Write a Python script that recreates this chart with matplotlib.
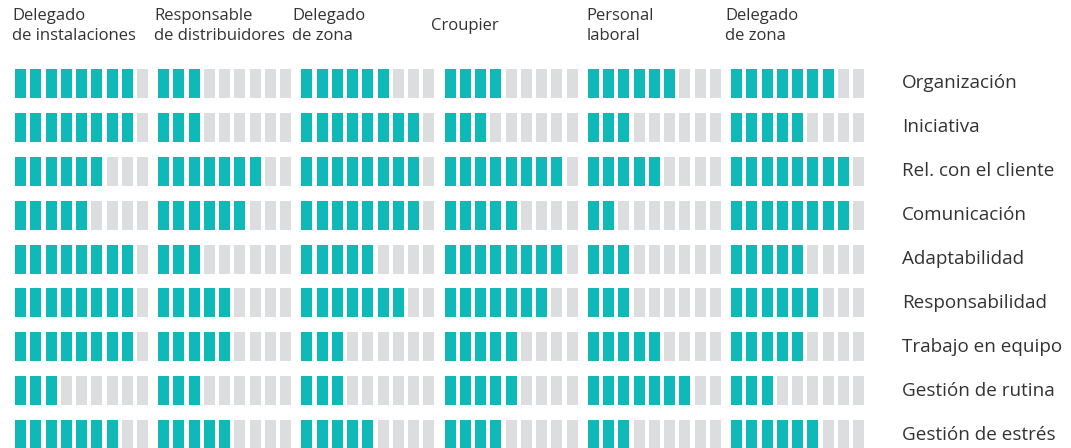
import numpy as np
import matplotlib
matplotlib.use('Agg')
import matplotlib.pyplot as plt

# Job roles (column headers) and skills (row labels)
roles = ['Delegado\nde instalaciones', 'Responsable\nde distribuidores', 'Delegado\nde zona',
         'Croupier', 'Personal\nlaboral', 'Delegado\nde zona']
skills = ['Organización', 'Iniciativa', 'Rel. con el cliente', 'Comunicación',
          'Adaptabilidad', 'Responsabilidad', 'Trabajo en equipo',
          'Gestión de rutina', 'Gestión de estrés']
max_score = 9

# scores[row][col] = number of filled bars out of max_score
scores = [
    [8, 3, 6, 4, 6, 7],
    [8, 3, 8, 3, 3, 5],
    [6, 7, 8, 8, 5, 8],
    [5, 6, 8, 5, 2, 8],
    [8, 3, 5, 8, 3, 5],
    [8, 5, 7, 7, 3, 6],
    [8, 5, 3, 5, 5, 5],
    [3, 3, 3, 5, 7, 3],
    [7, 5, 5, 4, 3, 6],
]

teal = '#0fb9b8'
grey = '#dcdddf'
text_color = '#333333'
plt.rcParams['font.family'] = ['Open Sans', 'DejaVu Sans']

# layout in pixel units
x0, cell_pitch, bar_pitch, bar_w = 15, 143.2, 15.25, 11
y0, row_pitch, bar_h = 69, 43.9, 29
header_offsets = [-3, -4, -9, -14, -1, -6]

fig = plt.figure(figsize=(10.71, 4.48), dpi=100)
ax = fig.add_axes([0, 0, 1, 1])
ax.set_xlim(0, 1071)
ax.set_ylim(448, 0)
ax.axis('off')

for r, row in enumerate(scores):
    y = y0 + r * row_pitch
    for c, val in enumerate(row):
        lefts = x0 + c * cell_pitch + np.arange(max_score) * bar_pitch
        colors = [teal if k < val else grey for k in range(max_score)]
        ax.bar(lefts, bar_h, width=bar_w, bottom=y, align='edge',
               color=colors, linewidth=0)
    ax.text(902, y + bar_h / 2, skills[r], ha='left', va='center',
            fontsize=13.6, color=text_color)

for c, name in enumerate(roles):
    ax.text(x0 + c * cell_pitch + header_offsets[c], 26, name, ha='left', va='center',
            fontsize=12, color=text_color, linespacing=1.25)

fig.savefig('out.png', dpi=100)
